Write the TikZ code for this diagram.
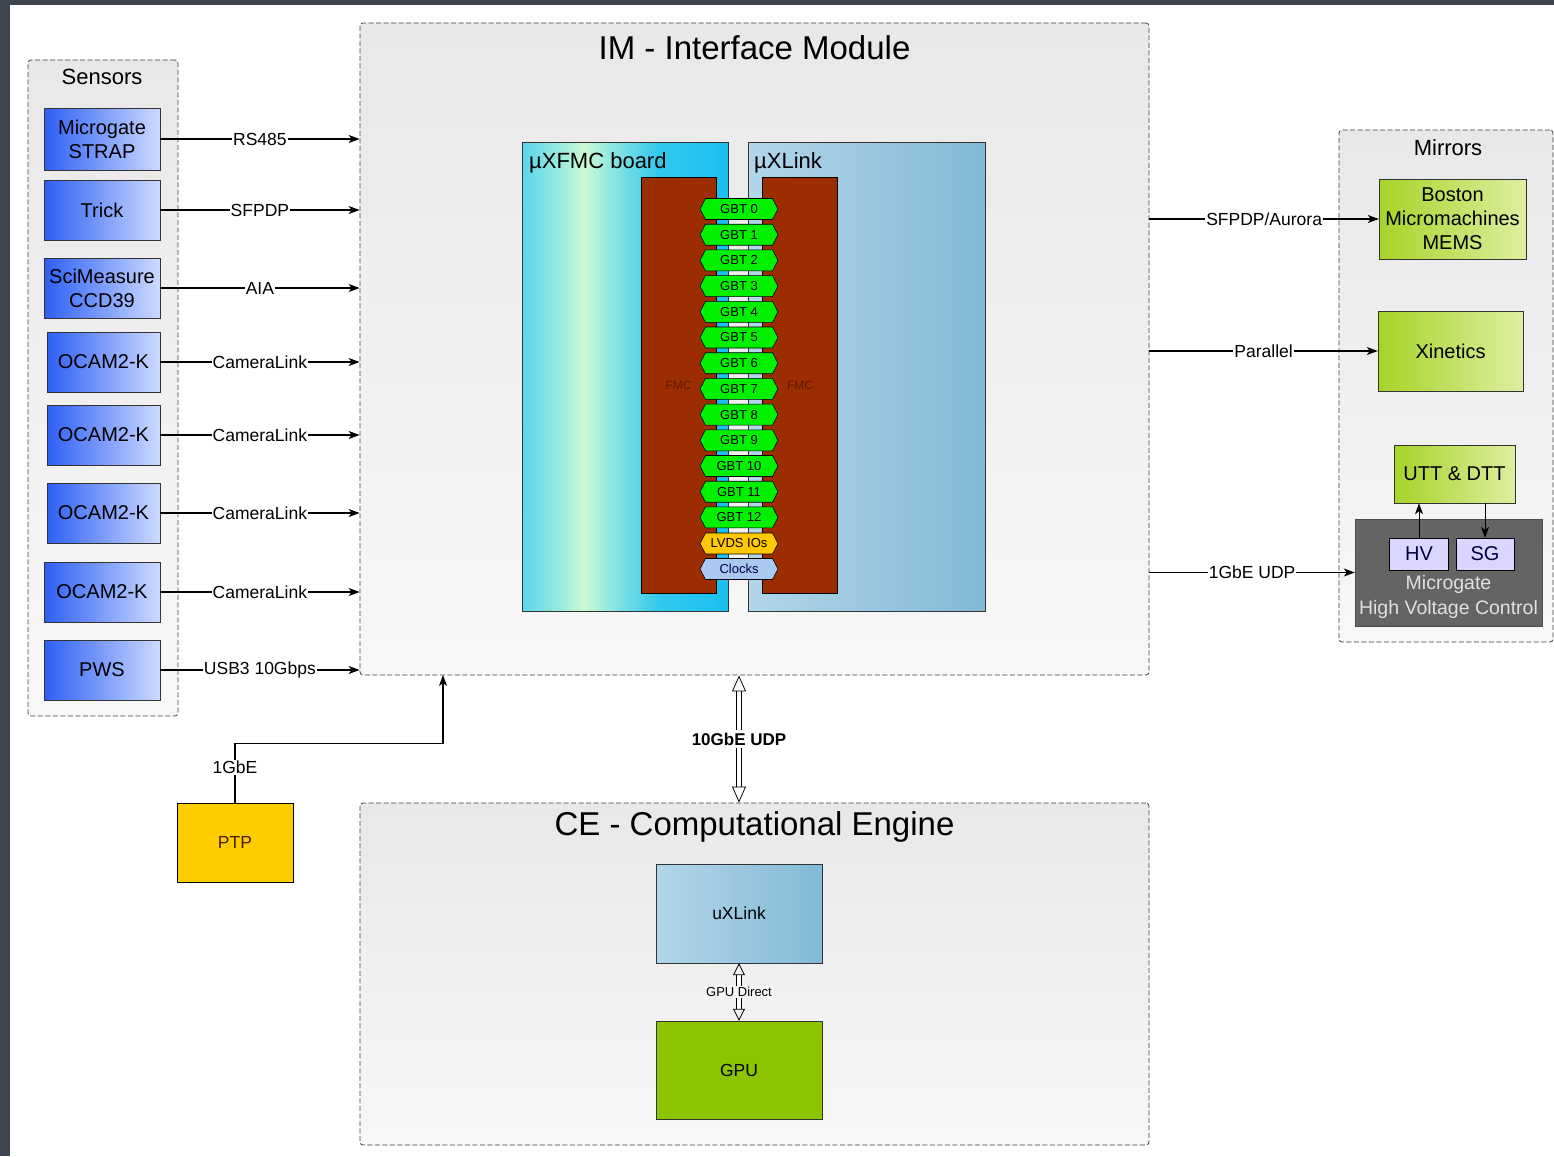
\documentclass[tikz,border=0pt]{standalone}
\usepackage{fontspec}
\setmainfont{Liberation Sans}
\usetikzlibrary{shapes.symbols, arrows.meta, positioning}

\newcommand{\pxfont}[1]{\fontsize{#1pt}{#1pt}\selectfont}

\definecolor{framedark}{RGB}{61,70,80}
\definecolor{sensA}{RGB}{45,95,245}
\definecolor{sensB}{RGB}{205,218,255}
\definecolor{fmcbrown}{RGB}{155,45,0}
\definecolor{fmctext}{RGB}{95,25,0}
\definecolor{gbtgreen}{RGB}{0,240,0}
\definecolor{lvdsyellow}{RGB}{255,200,0}
\definecolor{clockblue}{RGB}{170,200,240}
\definecolor{linkA}{RGB}{178,214,234}
\definecolor{linkB}{RGB}{130,185,214}
\definecolor{mirA}{RGB}{165,212,40}
\definecolor{mirB}{RGB}{222,238,160}
\definecolor{hvgray}{RGB}{100,100,100}
\definecolor{hvlilac}{RGB}{218,214,255}
\definecolor{ptpgold}{RGB}{255,204,0}
\definecolor{ptptext}{RGB}{70,30,0}
\definecolor{gpugreen}{RGB}{140,196,0}
\definecolor{cyanA}{RGB}{90,214,236}
\definecolor{mintA}{RGB}{205,250,210}
\definecolor{cyanB}{RGB}{25,192,240}

\pgfdeclarehorizontalshading{xfmcshade}{100bp}{color(0bp)=(cyanA); color(25bp)=(cyanA); color(35bp)=(mintA!60!cyanA); color(40bp)=(mintA); color(46bp)=(mintA!50!cyanA); color(58bp)=(cyanB!60!cyanA); color(75bp)=(cyanB); color(100bp)=(cyanB)}

\tikzstyle{groupbox} = [rectangle, draw=black!75, line width=0.8pt, dash pattern=on 5pt off 2.5pt, rounded corners=3pt, top color=black!9, bottom color=black!3]
\tikzstyle{grouptitle} = [font=\pxfont{22}]
\tikzstyle{sensor} = [rectangle, draw=black!80, left color=sensA, right color=sensB, minimum width=116pt, minimum height=60pt, align=center, inner sep=1pt, font=\fontsize{20pt}{24pt}\selectfont]
\tikzstyle{boardbox} = [rectangle, draw=black!80, line width=0.8pt, minimum height=469pt]
\tikzstyle{fmc} = [rectangle, draw=black, fill=fmcbrown, minimum width=75pt, minimum height=416pt, text=fmctext, font=\pxfont{12}]
\tikzstyle{gbt} = [signal, signal to=west and east, signal pointer angle=125, draw=black, line width=0.6pt, fill=gbtgreen, minimum width=78pt, minimum height=21pt, inner sep=0pt, font=\pxfont{13}]
\tikzstyle{mirrorbox} = [rectangle, draw=black!80, left color=mirA, right color=mirB, align=center, inner sep=1pt, font=\fontsize{20pt}{24pt}\selectfont]
\tikzstyle{hvbox} = [rectangle, draw=black, fill=hvlilac, minimum width=59pt, minimum height=32pt, text=black!75!blue, font=\pxfont{20}]
\tikzstyle{plainbox} = [rectangle, draw=black!80, font=\pxfont{17.5}]
\tikzstyle{arrow} = [line width=1.1pt, -{Stealth[length=11pt, width=8pt, inset=3pt]}]
\tikzstyle{linklabel} = [fill=white, inner sep=1pt, font=\pxfont{17.5}]
\tikzstyle{flexarrow} = [double, double distance=3.5pt, line width=0.8pt, {Triangle[open, length=16pt, width=14pt]}-{Triangle[open, length=16pt, width=14pt]}]

\begin{document}
\begin{tikzpicture}[x=1pt, y=-1pt]
\useasboundingbox (0,0) rectangle (1554,1156);

% Frame
\fill[framedark] (0,0) rectangle (1554,1156);
\fill[white] (10,5) rectangle (1554,1156);

% Groups
\node (sensors) [groupbox, minimum width=150pt, minimum height=656pt] at (103,388) {};
\node (im) [groupbox, minimum width=789pt, minimum height=652pt] at (754.5,349) {};
\node (mirrors) [groupbox, minimum width=214pt, minimum height=512pt] at (1446,386) {};
\node (ce) [groupbox, minimum width=789pt, minimum height=342pt] at (754.5,974) {};

\node (sensorstitle) [grouptitle] at (102,77) {Sensors};
\node (imtitle) [grouptitle, font=\pxfont{33}] at (754.5,48) {IM - Interface Module};
\node (mirrorstitle) [grouptitle] at (1448,148) {Mirrors};
\node (cetitle) [grouptitle, font=\pxfont{33}] at (754.5,827) {CE - Computational Engine};

% Sensors
\node (strap) [sensor, minimum height=62pt] at (102,139) {Microgate\\STRAP};
\node (trick) [sensor] at (102,210) {Trick};
\node (scimeasure) [sensor] at (102,288) {SciMeasure\\CCD39};
\node (ocama) [sensor, minimum width=113pt] at (103.5,362) {OCAM2-K};
\node (ocamb) [sensor, minimum width=113pt] at (103.5,435) {OCAM2-K};
\node (ocamc) [sensor, minimum width=113pt] at (103.5,513) {OCAM2-K};
\node (ocamd) [sensor] at (102,592) {OCAM2-K};
\node (pws) [sensor] at (102,670) {PWS};

% Boards
\node (xfmc) [boardbox, shading=xfmcshade, minimum width=206pt] at (625,376.5) {};
\node (xlink) [boardbox, left color=linkA, right color=linkB, minimum width=237pt] at (866.5,376.5) {};
\node (xfmctitle) [anchor=west, font=\pxfont{22}, inner sep=0pt] at (529,163) {µXFMC board};
\node (xlinktitle) [anchor=west, font=\pxfont{22}, inner sep=0pt] at (754,163) {µXLink};

% FMC connectors
\node (fmcleft) [fmc] at (678.5,385) {FMC};
\node (fmcright) [fmc] at (800,385) {FMC};

\foreach \i in {0,...,12}
  \node (gbt\i) [gbt] at (739,{209+25.7*\i}) {GBT \i};
\node (lvds) [gbt, fill=lvdsyellow] at (739,543.5) {LVDS IOs};
\node (clocks) [gbt, fill=clockblue, text=black!70!blue] at (739,569) {Clocks};

% Mirrors
\node (boston) [mirrorbox, minimum width=147pt, minimum height=80pt] at (1452.5,219) {Boston\\Micromachines\\MEMS};
\node (xinetics) [mirrorbox, minimum width=145pt, minimum height=80pt] at (1450.5,351) {Xinetics};
\node (utt) [mirrorbox, minimum width=121pt, minimum height=58pt] at (1454.5,474) {UTT \& DTT};
\node (hvc) [rectangle, draw=black!70, fill=hvgray, minimum width=187pt, minimum height=107pt] at (1448.5,572.5) {};
\node (hvclabel) [align=center, text=white!88!black, font=\fontsize{19.5pt}{25pt}\selectfont, inner sep=0pt] at (1448.5,597) {Microgate\\High Voltage Control};
\node (hv) [hvbox] at (1419,554) {HV};
\node (sg) [hvbox, minimum width=58pt] at (1485,554) {SG};

% PTP
\node (ptp) [plainbox, draw=black, fill=ptpgold, text=ptptext, minimum width=116pt, minimum height=79pt] at (235,842.5) {PTP};
\coordinate (imptp) at (443,675);

% Computational engine
\node (cxlink) [plainbox, left color=linkA, right color=linkB, minimum width=166pt, minimum height=99pt] at (739,913.5) {uXLink};
\node (gpu) [plainbox, fill=gpugreen, minimum width=166pt, minimum height=98pt] at (739,1070) {GPU};

% Arrows
\draw [arrow] (strap.east) -- (strap.east -| im.west) node[linklabel, midway] {RS485};
\draw [arrow] (trick.east) -- (trick.east -| im.west) node[linklabel, midway] {SFPDP};
\draw [arrow] (scimeasure.east) -- (scimeasure.east -| im.west) node[linklabel, midway] {AIA};
\draw [arrow] (ocama.east) -- (ocama.east -| im.west) node[linklabel, midway] {CameraLink};
\draw [arrow] (ocamb.east) -- (ocamb.east -| im.west) node[linklabel, midway] {CameraLink};
\draw [arrow] (ocamc.east) -- (ocamc.east -| im.west) node[linklabel, midway] {CameraLink};
\draw [arrow] (ocamd.east) -- (ocamd.east -| im.west) node[linklabel, midway] {CameraLink};
\draw [arrow] (pws.east) -- (pws.east -| im.west) node[linklabel, midway] {USB3 10Gbps};
\draw [arrow] (boston.west -| im.east) -- (boston.west) node[linklabel, midway] {SFPDP/Aurora};
\draw [arrow] (xinetics.west -| im.east) -- (xinetics.west) node[linklabel, midway] {Parallel};
\draw [arrow] (hvc.west -| im.east) -- (hvc.west) node[linklabel, midway] {1GbE UDP};
\draw [arrow, line width=1pt] (hv.north) -- (hv.north |- utt.south);
\draw [arrow, line width=1pt] (utt.south -| sg.north) -- (sg.north);
\draw [arrow] (ptp.north) -- node[linklabel, pos=0.6] {1GbE} ++(0,-59) -| (imptp);
\draw [flexarrow] (im.south -| cxlink.north) -- (ce.north -| cxlink.north);
\path (im.south -| cxlink.north) -- (ce.north -| cxlink.north) node[linklabel, midway, inner sep=3pt, font=\pxfont{17}\bfseries] {10GbE UDP};
\draw [flexarrow, {Triangle[open, length=12pt, width=12pt]}-{Triangle[open, length=12pt, width=12pt]}] (cxlink.south) -- (gpu.north);
\path (cxlink.south) -- (gpu.north) node[linklabel, midway, fill=black!4, font=\pxfont{13}] {GPU Direct};

\end{tikzpicture}
\end{document}
